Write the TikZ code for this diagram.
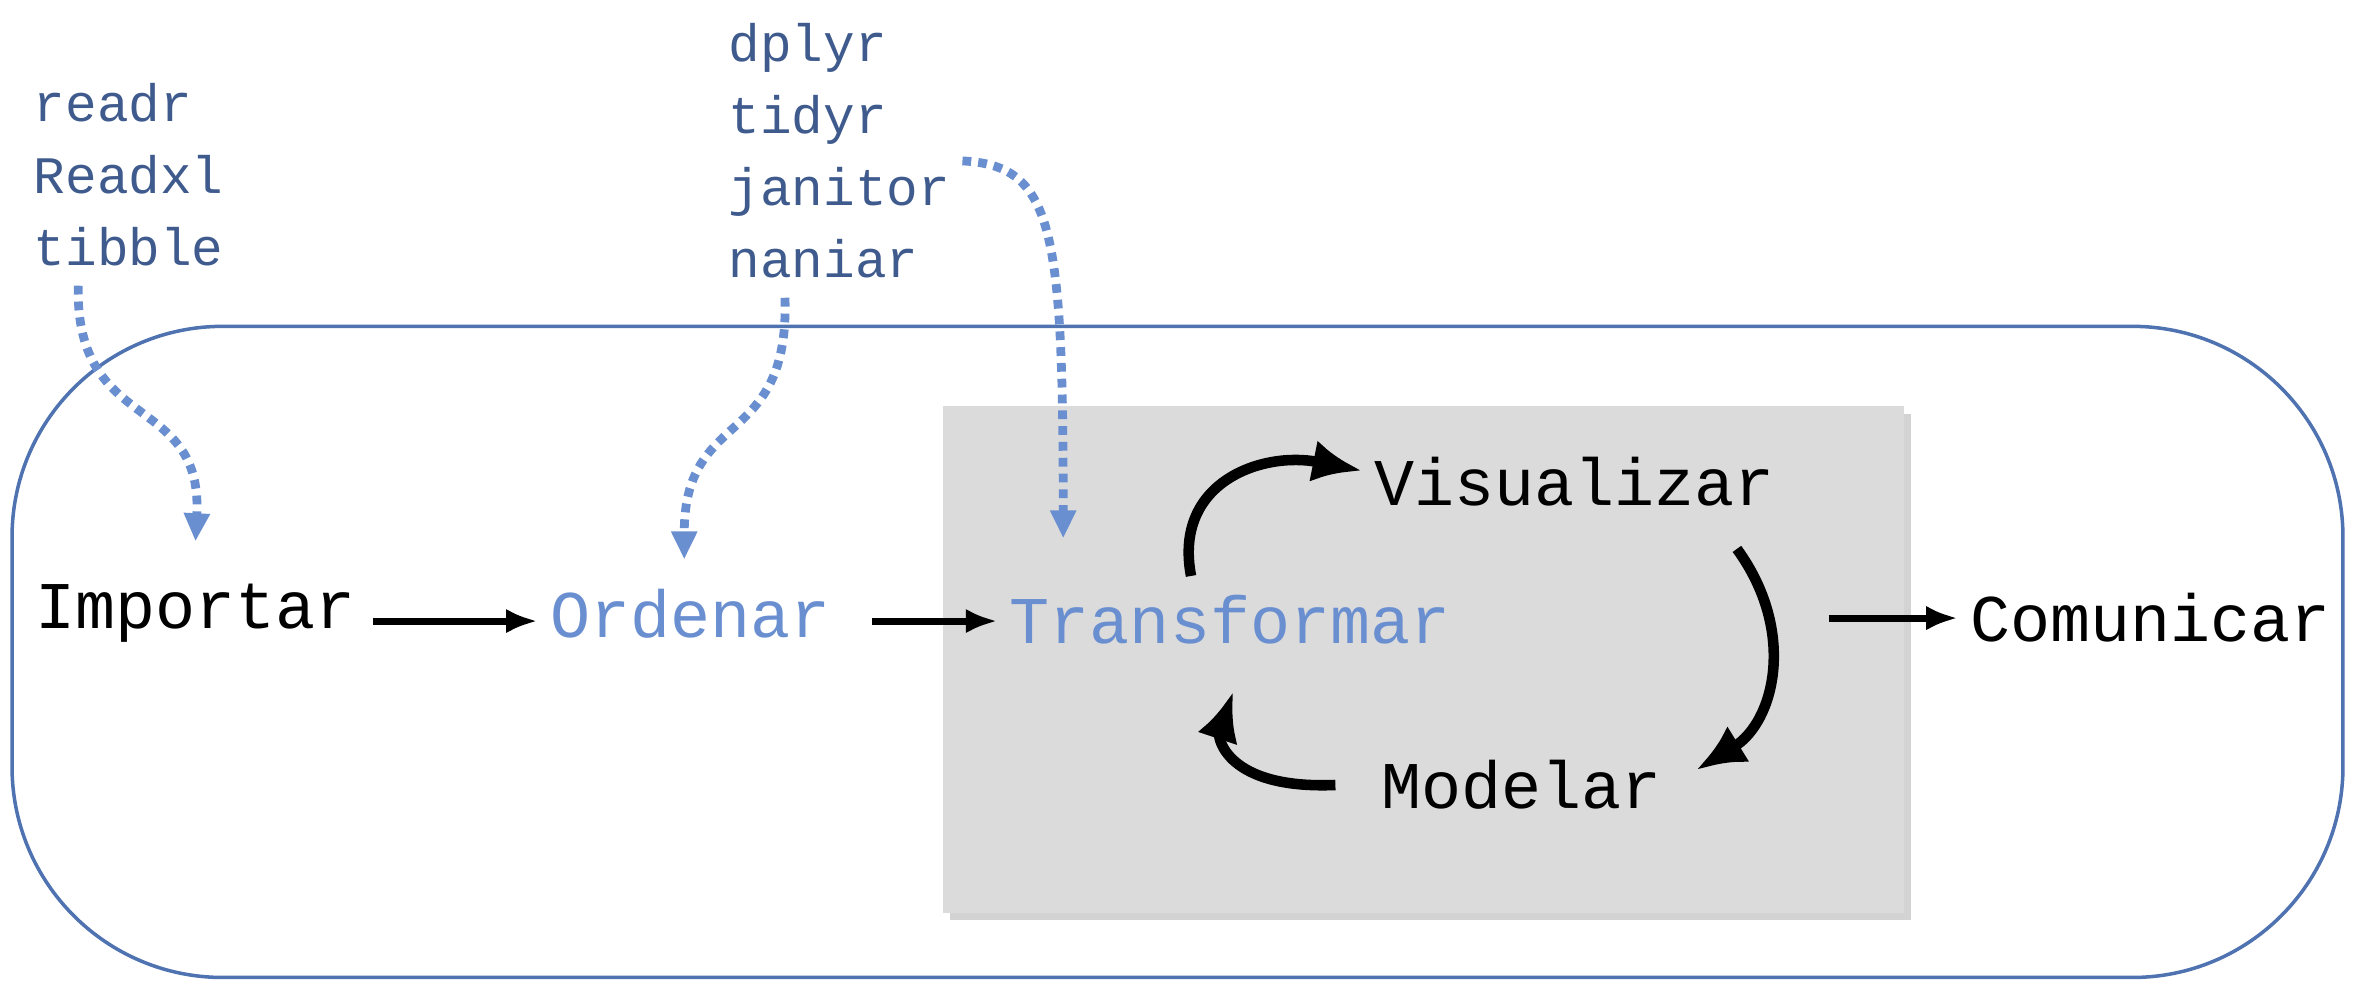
\documentclass[tikz,border=0pt]{standalone}
\usepackage{fontspec}
\setmonofont{Liberation Mono}
\usetikzlibrary{shadows,arrows.meta}
\definecolor{frameblue}{HTML}{4F72B0}
\definecolor{stepblue}{HTML}{6A8FD0}
\tikzstyle{every node}=[font=\ttfamily]
\tikzstyle{stage}=[font=\ttfamily\fontsize{19}{22}\selectfont]
\tikzstyle{pkg}=[font=\ttfamily\fontsize{15}{20.5}\selectfont, text=frameblue!80!black, align=left, anchor=north west, inner sep=0pt]
\tikzstyle{flow}=[-{Latex[length=9pt,width=7pt]}, line width=2pt]
\tikzstyle{cycle}=[-{Latex[length=14pt,width=12pt]}, line width=3pt]
\tikzstyle{hint}=[-{Triangle[length=8pt,width=7pt]}, dotted, line width=2.5pt, stepblue]

\begin{document}
\begin{tikzpicture}[x=0.01504cm, y=-0.01504cm]
      \useasboundingbox (0,0) rectangle (1568,668);
      \draw[frameblue, line width=1pt, rounded corners=60] (8,217) rectangle (1558,650);
      \fill[gray!28, drop shadow={opacity=0.35}] (627,270) rectangle (1266,607);
      % stages
      \node[stage] (imp) at (130,408) {Importar};
      \node[stage, text=stepblue] (ord) at (459,408) {Ordenar};
      \node[stage, text=stepblue] (tra) at (818,412) {Transformar};
      \node[stage] (vis) at (1047,320) {Visualizar};
      \node[stage] (mod) at (1012,522) {Modelar};
      \node[stage] (com) at (1430,411) {Comunicar};
      % packages
      \node[pkg] (pkgA) at (22,55) {readr\\Readxl\\tibble};
      \node[pkg] (pkgB) at (484,15) {dplyr\\tidyr\\janitor\\naniar};
      \coordinate (a1) at (248,413);
      \coordinate (a2) at (580,413);
      \coordinate (a3) at (1216,411);
      \draw[flow] (a1) -- (ord.west |- a1);
      \draw[flow] (a2) -- (tra.west |- a2);
      \draw[flow] (a3) -- (com.west |- a3);
      \coordinate (c1) at (792,383);
      \coordinate (c2) at (1155,365);
      \coordinate (c3) at (888,522);
      \draw[cycle] (c1) .. controls (780,320) and (840,300) .. (vis.west |- c1 |- 0,313);
      \draw[cycle] (c2) .. controls (1195,420) and (1180,480) .. (1128,512);
      \draw[cycle] (c3) .. controls (815,525) and (810,490) .. (820,460);
      % hints
      \coordinate (hA) at (52,190);
      \coordinate (hB) at (522,198);
      \coordinate (hC) at (640,107);
      \draw[hint] (hA) .. controls (50,290) and (135,260) .. (130,360);
      \draw[hint] (hB) .. controls (525,300) and (455,270) .. (455,372);
      \draw[hint] (hC) .. controls (700,110) and (707,150) .. (707,358);
\end{tikzpicture}
\end{document}
